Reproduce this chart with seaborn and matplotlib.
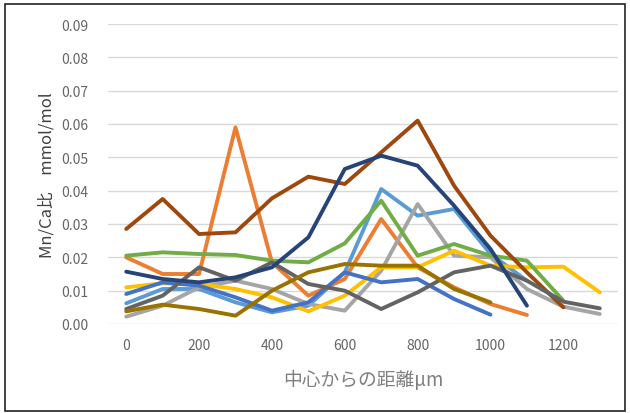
import numpy as np
import pandas as pd
import matplotlib
matplotlib.use("Agg")
import matplotlib.pyplot as plt
import seaborn as sns
from matplotlib.patches import Rectangle

nan = np.nan
distance = [0, 100, 200, 300, 400, 500, 600, 700, 800, 900, 1000, 1100, 1200, 1300]

s_lightblue = [0.0062, 0.0105, 0.0105, 0.0065, 0.0035, 0.0055, 0.0155, 0.0405, 0.0325, 0.0345, 0.021, 0.013, nan, nan]
s_orange = [0.020, 0.015, 0.015, 0.059, 0.0185, 0.0085, 0.0135, 0.0315, 0.017, 0.011, 0.006, 0.0027, nan, nan]
s_gray = [0.0022, 0.0055, 0.011, 0.013, 0.0105, 0.006, 0.004, 0.016, 0.036, 0.0205, 0.020, 0.0105, 0.0052, 0.003]
s_gold = [0.011, 0.0122, 0.012, 0.0105, 0.008, 0.0038, 0.0085, 0.017, 0.017, 0.022, 0.0175, 0.017, 0.0172, 0.0095]
s_blue = [0.009, 0.0125, 0.0115, 0.008, 0.004, 0.0065, 0.0155, 0.0125, 0.0135, 0.0075, 0.0028, nan, nan, nan]
s_green = [0.0205, 0.0215, 0.021, 0.0207, 0.019, 0.0185, 0.0242, 0.037, 0.0205, 0.024, 0.0205, 0.019, 0.007, nan]
s_brown = [0.0285, 0.0375, 0.027, 0.0275, 0.0377, 0.0442, 0.042, 0.0515, 0.061, 0.0415, 0.0265, 0.0155, 0.005, nan]
s_darkgray = [0.0045, 0.0085, 0.017, 0.013, 0.0185, 0.012, 0.010, 0.0045, 0.0095, 0.0155, 0.0175, 0.013, 0.0067, 0.0047]
s_olive = [0.0038, 0.0058, 0.0045, 0.0025, 0.010, 0.0155, 0.018, 0.0175, 0.0175, 0.0105, 0.0065, nan, nan, nan]
s_darkblue = [0.0157, 0.0135, 0.0125, 0.014, 0.017, 0.026, 0.0465, 0.0505, 0.0475, 0.0355, 0.0225, 0.0055, nan, nan]

series_names = ["S1", "S2", "S3", "S4", "S5", "S6", "S8", "S9", "S10", "S11"]
series_values = [s_lightblue, s_orange, s_gray, s_gold, s_blue, s_green,
                 s_brown, s_darkgray, s_olive, s_darkblue]
series_colors = ["#5B9BD5", "#ED7D31", "#A5A5A5", "#FFC000", "#4472C4", "#70AD47",
                 "#9E480E", "#636363", "#997300", "#264478"]

x_ticks = [0, 200, 400, 600, 800, 1000, 1200]
y_ticks = [0.00, 0.01, 0.02, 0.03, 0.04, 0.05, 0.06, 0.07, 0.08, 0.09]
x_title = "中心からの距離μm"
y_title = "Mn/Ca比　mmol/mol"

rows = []
for name, vals in zip(series_names, series_values):
    for d, v in zip(distance, vals):
        rows.append({"distance": d, "value": v, "series": name})
df = pd.DataFrame(rows).dropna()

sns.set_theme(style="white")
plt.rcParams["font.family"] = ["Noto Sans CJK JP", "DejaVu Sans"]

fig = plt.figure(figsize=(6.3, 4.14), dpi=100)
ax = fig.add_axes([108 / 630, 1 - 325 / 414, 510 / 630, 300 / 414])

sns.lineplot(data=df, x="distance", y="value", hue="series", hue_order=series_names,
             palette=dict(zip(series_names, series_colors)), estimator=None,
             sort=False, linewidth=2.8, legend=False, ax=ax)

ax.set_xlim(-50, 1350)
ax.set_ylim(0, 0.09)
ax.set_xticks(x_ticks)
ax.set_xticklabels([str(t) for t in x_ticks])
ax.set_yticks(y_ticks)
ax.set_yticklabels([f"{t:.2f}" for t in y_ticks])
ax.grid(axis="y", color="#D9D9D9", linewidth=1.0)
ax.set_axisbelow(True)
for sp in ax.spines.values():
    sp.set_visible(False)
ax.tick_params(axis="both", length=0, labelsize=10, colors="#666666")
ax.tick_params(axis="y", pad=14)
ax.tick_params(axis="x", pad=10)
ax.set_xlabel(x_title, fontsize=13.5, color="#7F7F7F", labelpad=12)
ax.set_ylabel(y_title, fontsize=12, color="#404040", labelpad=4)

fig.patches.append(Rectangle((5 / 630, 2 / 414), 620 / 630, 407 / 414, transform=fig.transFigure,
                             fill=False, edgecolor="#222222", linewidth=1.2))

fig.savefig("out.png", dpi=100)
